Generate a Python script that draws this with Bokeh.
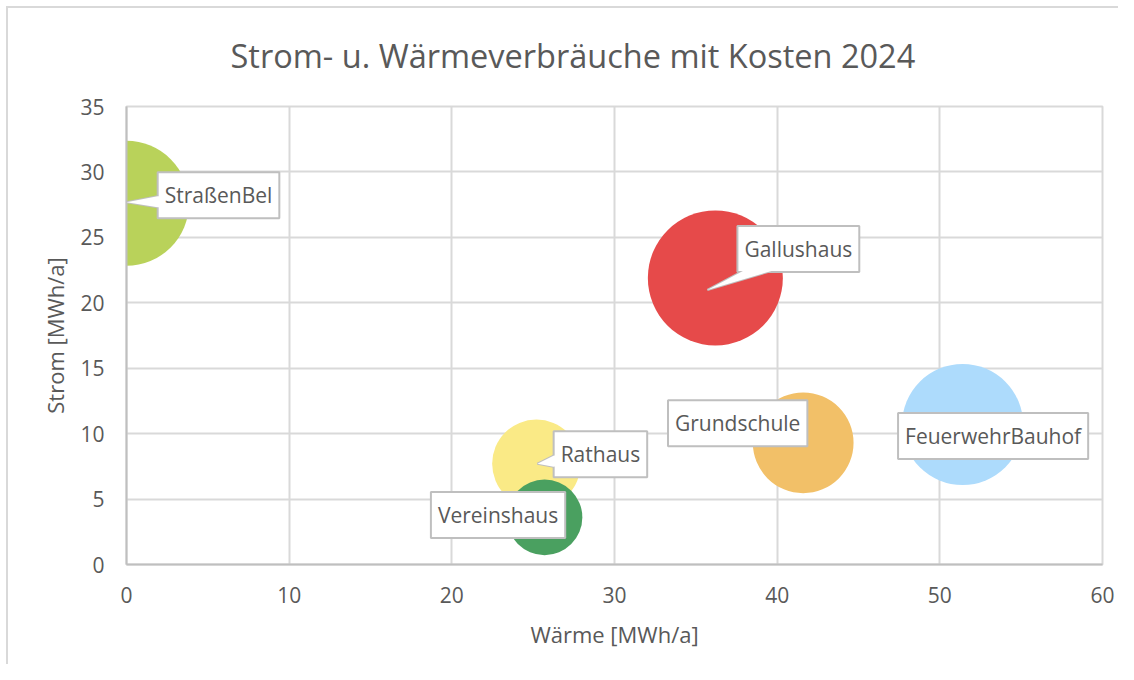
import math
from bokeh.plotting import figure
from bokeh.models import Range1d, SingleIntervalTicker, Label
from bokeh.embed import file_html
from bokeh.resources import INLINE

# ---- data ----
namen = ["StraßenBel", "Gallushaus", "Rathaus", "Vereinshaus", "Grundschule", "FeuerwehrBauhof"]
waerme = [0.0, 36.2, 25.2, 25.7, 41.6, 51.4]          # MWh/a
strom = [27.6, 21.9, 7.7, 3.6, 9.3, 10.7]             # MWh/a
kosten = [25.7, 30.0, 12.9, 9.4, 16.7, 24.1]          # Tsd. EUR (bubble size)
farben = ["#B9D25A", "#E64A4A", "#FAEA86", "#4AA060", "#F2C068", "#ADDBFC"]

x_ticks = [0, 10, 20, 30, 40, 50, 60]
y_ticks = [0, 5, 10, 15, 20, 25, 30, 35]

# ---- layout (screen px) ----
W, H = 1118, 664
ML, MR, MT, MB = 126, 16, 106, 100
FW, FH = W - ML - MR, H - MT - MB
MAX_D = 135  # diameter of largest bubble in px

label_off = [(92, 8), (83, 29), (64, 9.5), (-46.5, 2.5), (-65.5, 19.5), (30.5, -11.5)]
# callout pointers: (tip, base1, base2) in px relative to data point (y up)
pointer = {0: ((0, 1), (31, 7), (31, -4)),
           1: ((-8, -12), (35, 11), (70, 11)),
           2: ((1, 0), (17, 8), (17, -3))}

TXT = "#595959"
FONT = "Open Sans"

p = figure(width=W, height=H, output_backend="svg", toolbar_location=None,
           x_range=Range1d(x_ticks[0], x_ticks[-1]), y_range=Range1d(y_ticks[0], y_ticks[-1]),
           min_border_left=ML, min_border_right=MR, min_border_top=MT, min_border_bottom=MB,
           x_axis_label="Wärme [MWh/a]", y_axis_label="Strom [MWh/a]")

p.title.text = "Strom- u. Wärmeverbräuche mit Kosten 2024"
p.title.align = "left"
p.title.offset = 104
p.title.standoff = 57
p.title.text_font = FONT
p.title.text_font_size = "32.5px"
p.title.text_font_style = "normal"
p.title.text_color = TXT

p.outline_line_color = "#D9D9D9"
p.outline_line_width = 2
p.background_fill_color = "white"
p.border_fill_color = None
# outer chart-area border (top and left visible), drawn behind the transparent border area
p.styles = {"background": "linear-gradient(#D9D9D9, #D9D9D9) 6px 6px / 100% 2px no-repeat, "
                          "linear-gradient(#D9D9D9, #D9D9D9) 6px 6px / 2px 100% no-repeat, white"}

p.xaxis.ticker = SingleIntervalTicker(interval=10)
p.yaxis.ticker = SingleIntervalTicker(interval=5)
for ax in (p.xaxis, p.yaxis):
    ax.axis_line_color = "#BFBFBF"
    ax.axis_line_width = 2
    ax.major_tick_line_color = None
    ax.minor_tick_line_color = None
    ax.major_tick_in = 0
    ax.major_tick_out = 0
    ax.major_label_text_font = FONT
    ax.major_label_text_font_size = "21px"
    ax.major_label_text_color = TXT
    ax.axis_label_text_font = FONT
    ax.axis_label_text_font_size = "22px"
    ax.axis_label_text_font_style = "normal"
    ax.axis_label_text_color = TXT
p.xaxis.major_label_standoff = 18
p.xaxis.axis_label_standoff = 13
p.yaxis.major_label_standoff = 18
p.yaxis.axis_label_standoff = 7

p.grid.grid_line_color = "#D9D9D9"
p.grid.grid_line_width = 2

kmax = max(kosten)
sizes = [MAX_D * math.sqrt(k / kmax) for k in kosten]
p.scatter(waerme, strom, size=sizes, fill_color=farben, line_color=None, marker="circle")

sx = (x_ticks[-1] - x_ticks[0]) / FW
sy = (y_ticks[-1] - y_ticks[0]) / FH

xs, ys, xs2, ys2 = [], [], [], []
for i, (tip, b1, b2) in pointer.items():
    cx, cy = waerme[i], strom[i]
    mx, my = (b1[0] + b2[0]) / 2 - tip[0], (b1[1] + b2[1]) / 2 - tip[1]
    n = math.hypot(mx, my)
    ix, iy = 4 * mx / n, 4 * my / n
    pts = [tip, b1, b2]
    xs.append([cx + q[0] * sx for q in pts])
    ys.append([cy + q[1] * sy for q in pts])
    pts2 = [tip, b1, (b1[0] + ix, b1[1] + iy), (b2[0] + ix, b2[1] + iy), b2]
    xs2.append([cx + q[0] * sx for q in pts2])
    ys2.append([cy + q[1] * sy for q in pts2])

p.patches(xs, ys, fill_color="white", line_color="#BFBFBF", line_width=2)

for i, name in enumerate(namen):
    p.add_layout(Label(x=waerme[i], y=strom[i], x_offset=label_off[i][0], y_offset=label_off[i][1],
                       text=name, text_align="center", text_baseline="middle",
                       text_font=FONT, text_font_size="21px", text_color=TXT,
                       background_fill_color="white", border_line_color="#BFBFBF",
                       border_line_width=2, padding=(7, 9)))

r2 = p.patches(xs2, ys2, fill_color="white", line_color=None)
r2.level = "overlay"

open("out.html", "w").write(file_html(p, INLINE))
